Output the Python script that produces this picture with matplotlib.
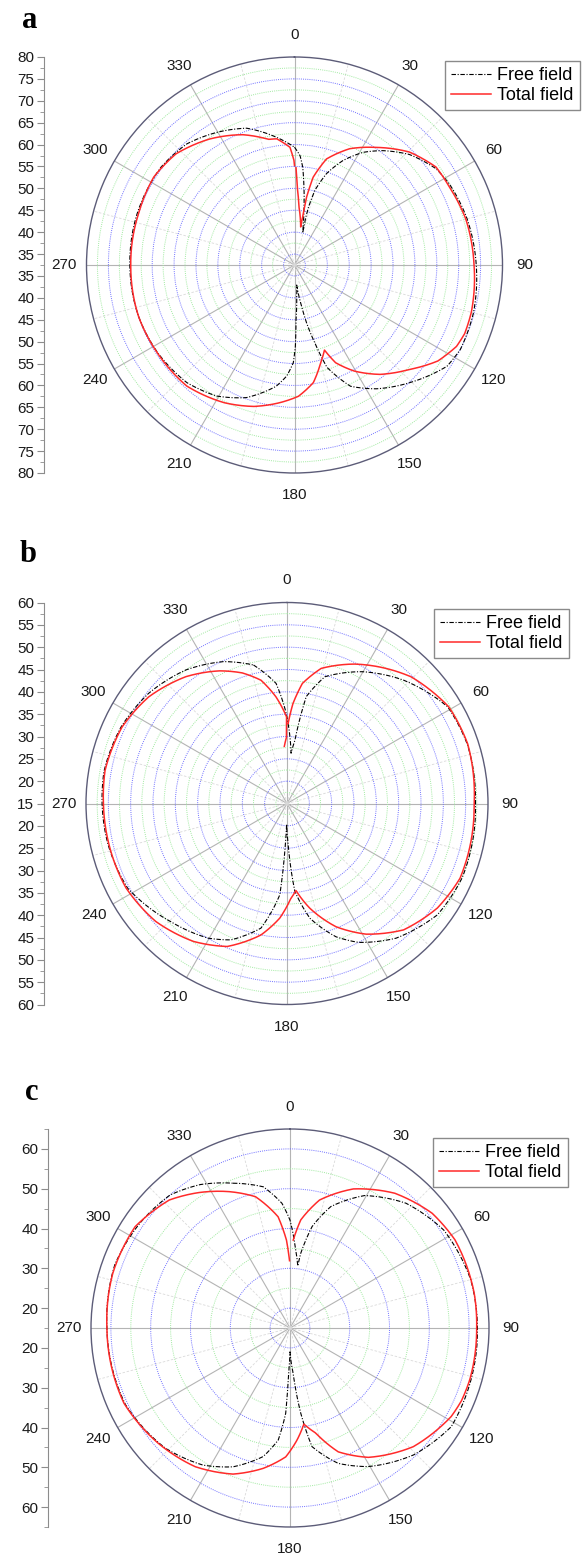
import numpy as np
import matplotlib
matplotlib.use("Agg")
import matplotlib.pyplot as plt

plt.rcParams['font.family'] = ['Liberation Sans', 'DejaVu Sans']

# ---------------- data (angle in degrees, radius in dB) ----------------
# panel a
a_free_theta = [0, 2.9, 4.8, 6.9, 9.3, 11.9, 14.2, 13.3, 13.6, 15.3, 19.3, 24.9, 31.3, 37.7,
                46.1, 55.8, 62.3, 75, 90, 105, 117, 123.6, 135.6, 146.5, 155.2, 162.4,
                165.3, 168.2, 170.2, 172.4, 173.7, 176, 178.4, 179.4, 180.7, 184, 188.6,
                199.9, 210.7, 222.4, 237, 252, 270, 288, 306.2, 318.4, 329.6, 340.7, 351.8, 360]
a_free_r = [59.4, 57.5, 54.9, 50.4, 45.9, 42.2, 40.1, 43.5, 46.1, 50.2, 54.6, 58.8, 62.6, 65.5,
            68.9, 71.6, 72.4, 73.3, 74.0, 74.8, 75.0, 74.3, 70.1, 66.4, 63.0, 57.0,
            51.0, 46.0, 42.1, 39.0, 37.1, 39.7, 45.0, 51.1, 54.8, 57.9, 60.5,
            64.7, 67.3, 68.9, 69.6, 70.0, 70.1, 70.3, 70.3, 69.5, 67.6, 65.6, 62.0, 59.4]
a_total_theta = [0.9, 2.0, 4.4, 9.2, 9.6, 10.1, 12.0, 16.8, 25.4, 34.8, 45.5, 55.3, 63.3, 75,
                 90, 105, 112, 116.7, 123.8, 132.4, 142.0, 150.6, 157.2, 160.6, 165.0, 170.9,
                 178.3, 186.0, 196.0, 207.0, 221.6, 237.4, 251.7, 269.4, 288.3, 302.0, 313.2,
                 326.0, 338.4, 348.3, 352.0, 357.8, 359.7, 360.0]
a_total_r = [54.7, 50.3, 45.8, 41.3, 43.6, 48.3, 53.0, 57.8, 61.9, 65.2, 69.3, 71.8, 72.1, 73.0,
             73.5, 74.3, 74.4, 73.9, 71.9, 67.9, 64.2, 60.3, 56.7, 53.1, 55.6, 59.7,
             62.5, 64.1, 66.1, 67.8, 69.5, 69.7, 70.0, 69.9, 70.0, 70.4, 69.6,
             67.2, 64.5, 61.8, 61.6, 59.4, 56.4, 55.2]

# panel b
b_free_theta = [346.4, 354.8, 359.0, 361.7, 364.6, 367.1, 370.2, 376.6, 389.8, 403.4, 419, 432,
                450, 473, 486.5, 501, 512.7, 519.8, 528.7, 534.9, 538.4, 541, 542.3, 544.5,
                551.8, 562.3, 570.2, 584.5, 602, 617, 630, 640, 654.9, 668.5, 682.9, 695.9, 706.4]
b_free_r = [46.9, 42.0, 35.9, 31.4, 26.3, 29.2, 39.3, 44.6, 49.0, 53.0, 57.0, 57.5,
            57.2, 57.6, 56.9, 53.8, 50.0, 46.8, 41.2, 34.7, 24.1, 19.6, 24.1, 35.5,
            43.5, 48.0, 49.9, 52.1, 55.4, 56.1, 56.4, 56.6, 55.9, 54.6, 52.5, 49.8, 46.9]
b_total_theta = [0.8, 3.4, 7.3, 14.2, 25.9, 44.4, 59.2, 71.7, 90, 113.4, 124.8, 137.3, 148.8,
                 158.3, 167.7, 174.1, 177.6, 183.6, 191.2, 202.7, 214.1, 228, 242.3, 257.1,
                 270, 280.3, 294.9, 307.6, 321.5, 333.1, 341.1, 348.1, 354.1, 359.7, 359.6, 357.3]
b_total_r = [32.9, 37.4, 42.1, 46.2, 49.7, 54.7, 57.2, 57.6, 56.9, 57.2, 56.0, 53.5, 49.2,
             44.7, 39.0, 34.6, 36.2, 40.7, 45.0, 49.7, 52.3, 54.5, 55.7, 55.9,
             56.1, 56.4, 55.7, 54.1, 51.3, 48.3, 45.9, 43.2, 39.0, 34.4, 29.9, 27.8]

# panel c
c_free_theta = [338.5, 349.3, 356.3, 360, 363.6, 367.1, 368.2, 372.3, 378.6, 389.4, 402.9, 417.5,
                435, 450, 466, 481.5, 495.8, 510.5, 520.4, 529.5, 532.8, 536, 540, 541.7,
                542.9, 546, 551.8, 562.3, 572.4, 586, 605, 630, 650, 665, 678, 688, 698.5]
c_free_r = [54.1, 51.1, 46.4, 42.1, 35.5, 30.7, 34.0, 41.1, 47.2, 53.2, 57.8, 60.8,
            62.0, 62.1, 62.3, 62.5, 59.5, 55.0, 51.1, 45.3, 36.6, 26.4, 21.0, 26.3,
            36.5, 43.3, 48.0, 52.7, 55.8, 58.5, 60.6, 61.0, 61.8, 61.0, 60.0, 57.5, 54.1]
c_total_theta = [2.1, 5.7, 13.0, 24.5, 37.9, 51.1, 61.9, 79.3, 90, 106.1, 113, 118.8, 133.9,
                 148.8, 158.7, 166.2, 171.8, 176.4, 181.9, 190.8, 201.3, 214.3, 228.9, 245.6,
                 270, 287.2, 303.2, 316.7, 326.1, 336.0, 345.3, 353.9, 357.7, 359.6]
c_total_r = [37.1, 42.3, 48.0, 53.4, 57.9, 60.9, 62.0, 62.1, 61.9, 62.0, 61.8, 61.2, 58.0,
             53.0, 48.4, 42.2, 39.4, 43.2, 47.4, 50.9, 54.4, 57.2, 59.0, 60.8,
             61.0, 61.6, 61.5, 59.2, 56.0, 52.5, 49.1, 43.1, 37.1, 31.9]

W, H = 583, 1555
BLUE = '#7070ff'
GREEN = '#a0eaa0'
RED = '#ff2a2a'

fig = plt.figure(figsize=(W / 100, H / 100), dpi=100)


def panel(cx, cy, R, rmin, rmax, blue_rings, green_rings, free, total,
          axis_x, lab_vals, lab_pos, minor_pos, leg_x, leg_y, letter, letter_xy):
    ax = fig.add_axes([(cx - R) / W, 1 - (cy + R) / H, 2 * R / W, 2 * R / H],
                      projection='polar')
    ax.set_theta_zero_location('N')
    ax.set_theta_direction(-1)
    ax.set_ylim(rmin, rmax)

    # rings and spokes
    ax.set_yticks(blue_rings)
    ax.set_yticks(green_rings, minor=True)
    ax.set_yticklabels([])
    ax.yaxis.grid(True, which='major', color=BLUE, ls=(0, (1, 1.2)), lw=0.7)
    ax.yaxis.grid(True, which='minor', color=GREEN, ls=(0, (1, 1.2)), lw=0.7)
    ax.tick_params(axis='y', which='both', length=0)

    ax.set_xticks(np.deg2rad(np.arange(0, 360, 30)))
    ax.set_xticklabels([str(v) for v in range(0, 360, 30)])
    ax.set_xticks(np.deg2rad(np.arange(15, 360, 30)), minor=True)
    ax.xaxis.grid(True, which='major', color='#b4b4b4', ls='-', lw=0.8)
    ax.xaxis.grid(True, which='minor', color='#dadada', ls=(0, (3, 2)), lw=0.6)
    ax.tick_params(axis='x', which='major', length=0, pad=9, labelsize=11,
                   labelcolor='#1a1a1a')
    ax.tick_params(axis='x', which='minor', length=4, direction='inout', color='#777')
    ax.spines['polar'].set_color('#5c5c78')
    ax.spines['polar'].set_linewidth(1.0)

    l1, = ax.plot(np.deg2rad(free[0]), free[1], color='black', lw=0.8,
                  ls=(0, (4, 1.5, 1, 1.5)), label='Free field')
    l2, = ax.plot(np.deg2rad(total[0]), total[1], color=RED, lw=1.1, label='Total field')
    # let the polar transform bend each segment along the angle
    for ln in (l1, l2):
        ln.get_path()._interpolation_steps = 24

    ax.legend(loc='upper left', bbox_to_anchor=(leg_x / W, 1 - leg_y / H),
              bbox_transform=fig.transFigure, fontsize=13, frameon=True,
              fancybox=False, edgecolor='#8a8a8a', framealpha=1, borderpad=0.35,
              handlelength=2.2, handletextpad=0.35, labelspacing=0.15, borderaxespad=0)

    # mirrored radial scale on the left
    span = rmax - rmin
    lax = fig.add_axes([axis_x / W, 1 - (cy + R) / H, 0.0001, 2 * R / H])
    lax.set_ylim(-span, span)
    lax.set_yticks(lab_pos)
    lax.set_yticklabels([str(v) for v in lab_vals])
    lax.set_yticks(minor_pos, minor=True)
    lax.set_xticks([])
    for s in ['right', 'top', 'bottom']:
        lax.spines[s].set_visible(False)
    lax.spines['left'].set_color('#8c8c8c')
    lax.tick_params(axis='y', which='major', length=5, color='#8c8c8c', labelsize=11,
                    labelcolor='#1a1a1a', pad=2)
    lax.tick_params(axis='y', which='minor', length=3, color='#8c8c8c')
    lax.patch.set_visible(False)

    fig.text(letter_xy[0] / W, 1 - letter_xy[1] / H, letter, family='Liberation Serif',
             fontweight='bold', fontsize=22, ha='left', va='center')


# panel a
a_vals = list(range(80, 30, -5)) + list(range(35, 85, 5))
a_pos = [v - 32.5 for v in range(80, 30, -5)] + [-(v - 32.5) for v in range(35, 85, 5)]
a_minor = [p for p in np.arange(-47.5, 47.6, 2.5)]
panel(294.5, 265, 208, 32.5, 80, np.arange(35, 76, 5), np.arange(37.5, 78, 5),
      (a_free_theta, a_free_r), (a_total_theta, a_total_r),
      44, a_vals, a_pos, a_minor, 445, 61, 'a', (22, 20))

# panel b
b_vals = list(range(60, 15, -5)) + [15] + list(range(20, 65, 5))
b_pos = [v - 15 for v in range(60, 15, -5)] + [0] + [-(v - 15) for v in range(20, 65, 5)]
b_minor = [p for p in np.arange(-45, 45.1, 2.5)]
panel(287, 803.5, 201, 15, 60, np.arange(20, 56, 5), np.arange(17.5, 58, 5),
      (b_free_theta, b_free_r), (b_total_theta, b_total_r),
      44, b_vals, b_pos, b_minor, 434, 609, 'b', (20, 554))

# panel c
c_vals = list(range(60, 15, -10)) + list(range(20, 65, 10))
c_pos = [v - 15 for v in range(60, 15, -10)] + [-(v - 15) for v in range(20, 65, 10)]
c_minor = [p for p in np.arange(-50, 50.1, 10)]
panel(290, 1328, 199, 15, 65, np.arange(20, 61, 10), np.arange(25, 56, 10),
      (c_free_theta, c_free_r), (c_total_theta, c_total_r),
      48, c_vals, c_pos, c_minor, 433, 1138, 'c', (25, 1092))

fig.savefig('out.png', dpi=100)
